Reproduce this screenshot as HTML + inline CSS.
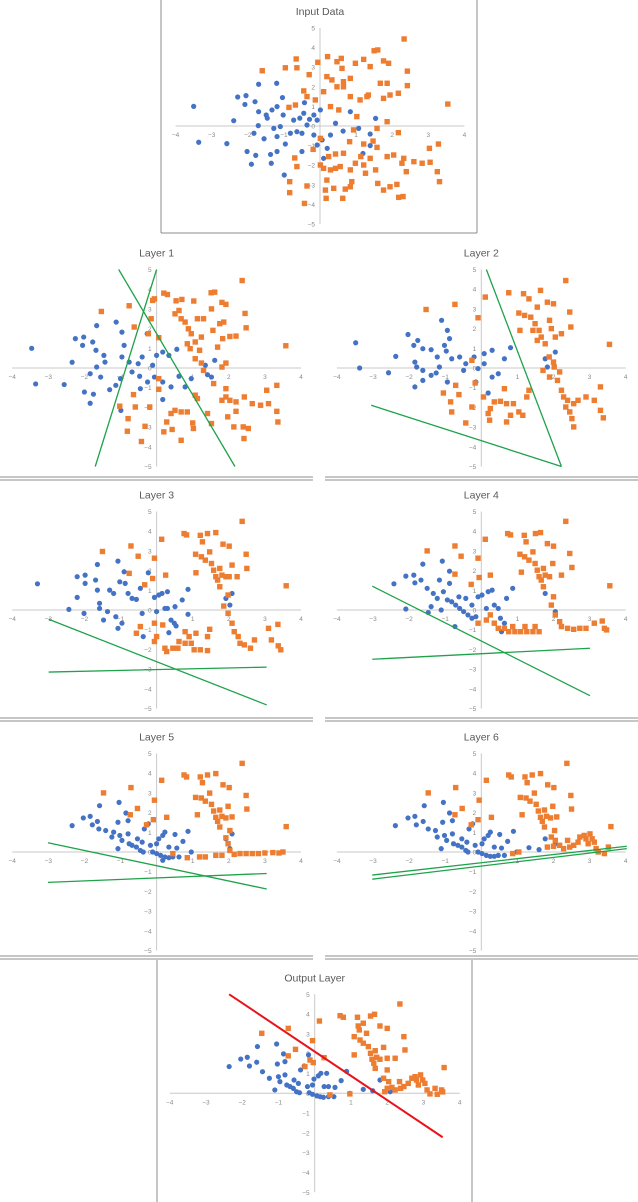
<!DOCTYPE html>
<html><head><meta charset="utf-8"><title>Layers</title>
<style>html,body{margin:0;padding:0;background:#fff}svg{display:block}text{font-family:"Liberation Sans",sans-serif}</style>
</head><body>
<svg id="chart" width="638" height="1202" viewBox="0 0 638 1202" xmlns="http://www.w3.org/2000/svg">
<g stroke="#8c8c8c" stroke-width="1" fill="none">
<line x1="161" y1="0" x2="161" y2="233"/><line x1="477" y1="0" x2="477" y2="233"/><line x1="161" y1="233" x2="477" y2="233"/>
<line x1="0" y1="477" x2="313" y2="477"/><line x1="0" y1="480" x2="313" y2="480"/><line x1="325" y1="477" x2="638" y2="477"/><line x1="325" y1="480" x2="638" y2="480"/>
<line x1="0" y1="718" x2="313" y2="718"/><line x1="0" y1="721" x2="313" y2="721"/><line x1="325" y1="718" x2="638" y2="718"/><line x1="325" y1="721" x2="638" y2="721"/>
<line x1="0" y1="956" x2="313" y2="956"/><line x1="0" y1="959" x2="313" y2="959"/><line x1="325" y1="956" x2="638" y2="956"/><line x1="325" y1="959" x2="638" y2="959"/>
<line x1="157" y1="960" x2="157" y2="1202"/><line x1="472" y1="960" x2="472" y2="1202"/>
</g>
</svg>
<script>
// ---------- data (x, y in axis units) ----------
const inputBlue=[[-3.5,1.0],[-3.36,-0.83],[-2.58,-0.9],[-2.39,0.27],[-2.28,1.48],[-2.05,1.55],[-2.08,1.1],[-1.8,1.24],[-1.7,2.13],[-1.7,0.73],[-1.49,0.56],[-1.46,0.4],[-1.71,0.02],[-1.83,-0.37],[-1.55,-0.65],[-2.02,-1.3],[-1.78,-1.5],[-1.9,-1.95],[-1.37,-1.45],[-1.19,-1.3],[-1.35,-1.9],[-1.2,2.18],[-1.19,0.99],[-1.33,0.82],[-1.04,1.45],[-1.02,0.56],[-1.1,-0.03],[-0.96,-0.92],[-1.19,-0.54],[-0.82,-0.37],[-0.64,-0.29],[-0.56,0.4],[-0.45,0.65],[-0.43,1.19],[-0.36,0.05],[-0.29,0.34],[-0.17,0.56],[-0.08,0.3],[0.01,0.82],[0.06,-0.71],[0.1,-1.65],[0.29,-0.46],[0.43,0.14],[0.64,-0.26],[0.84,0.73],[1.07,-0.12],[1.19,-1.4],[1.39,-0.41],[1.39,-1.0],[1.54,0.39],[-0.5,-1.3],[-0.17,-0.46],[-0.08,-0.97],[0.2,-1.14],[-0.99,-2.5],[-0.5,-0.37],[-0.73,0.3],[-1.28,-0.12]];
const inputOrange=[[-1.6,2.82],[-0.96,2.97],[-0.66,3.42],[-0.64,2.97],[-0.3,2.62],[-0.06,3.25],[0.21,3.54],[0.47,3.28],[0.59,3.45],[0.61,2.94],[0.19,2.52],[0.33,2.35],[0.47,2.0],[0.65,2.26],[0.84,2.43],[0.98,3.2],[1.21,3.4],[1.39,3.03],[1.5,3.84],[1.6,3.88],[1.76,3.32],[1.9,3.2],[2.33,4.44],[2.42,2.8],[2.42,2.06],[3.54,1.12],[1.67,2.18],[1.86,2.18],[1.34,1.58],[1.11,1.33],[0.84,1.5],[0.65,2.0],[0.1,1.75],[-0.13,1.33],[-0.36,1.5],[-0.45,1.79],[-0.68,1.07],[-0.86,0.95],[0.29,0.99],[0.52,0.82],[1.02,0.48],[1.3,1.5],[1.94,1.58],[2.17,1.67],[1.76,1.41],[1.86,0.22],[1.58,-0.12],[2.17,-0.34],[0.93,-0.2],[0.82,-0.8],[1.21,-0.92],[1.47,-0.77],[1.58,-1.09],[1.13,-1.56],[1.39,-1.65],[1.21,-1.99],[1.54,-2.24],[1.26,-2.41],[1.86,-1.56],[2.04,-1.48],[2.32,-1.65],[2.27,-1.9],[2.6,-1.82],[2.83,-1.9],[3.05,-1.85],[3.03,-1.14],[3.28,-0.92],[3.25,-2.33],[3.31,-2.84],[2.39,-2.33],[2.13,-2.98],[2.3,-3.6],[2.18,-3.64],[1.94,-3.1],[1.76,-3.27],[1.6,-2.93],[0.84,-3.1],[0.88,-2.84],[0.63,-3.69],[0.7,-3.22],[0.38,-3.18],[0.19,-2.76],[0.15,-3.27],[0.17,-3.69],[-0.43,-3.95],[-0.36,-3.06],[-0.84,-2.84],[-0.84,-3.4],[-0.64,-2.07],[-0.7,-1.63],[0.01,-1.99],[0.1,-2.16],[0.29,-2.24],[0.43,-2.16],[0.56,-2.07],[0.65,-1.39],[0.43,-1.43],[0.24,-1.56],[0.01,-0.63],[-0.19,-1.19],[0.84,-2.24],[0.98,-1.9]];

const layer1Blue=[[-3.46,1.0],[-3.35,-0.81],[-2.56,-0.84],[-2.34,0.29],[-2.25,1.49],[-2.02,1.57],[-2.05,1.15],[-1.66,2.15],[-1.77,1.32],[-1.68,0.9],[-1.46,0.64],[-1.43,0.3],[-1.66,0.05],[-1.84,-0.29],[-1.55,-0.46],[-2.0,-1.22],[-1.75,-1.33],[-1.84,-1.79],[-1.3,-1.1],[-1.13,-0.88],[-1.0,-0.54],[-1.12,2.33],[-0.96,1.82],[-0.9,1.15],[-0.96,0.56],[-0.76,0.3],[-0.68,-0.2],[-0.47,-0.42],[-0.51,0.22],[-0.4,0.56],[-0.26,1.74],[-0.11,0.14],[0,0.64],[0.17,0.81],[0.34,0.64],[0.56,0.95],[-0.06,-0.46],[0.17,-0.71],[0.4,-0.96],[0.62,-0.42],[0.79,-0.96],[0.96,-0.54],[1.35,0.14],[1.41,-0.34],[1.61,0.39],[1.52,-0.46],[0.17,-1.6],[-0.99,-2.15],[-0.45,-1.05],[-0.25,-0.71]];
const layer1Orange=[[-1.53,2.87],[-0.76,3.16],[-0.06,3.51],[0.2,3.8],[0.3,3.73],[0.54,3.41],[0.7,3.48],[1.03,3.4],[1.51,3.82],[1.61,3.85],[1.81,3.33],[1.92,3.23],[2.37,4.44],[2.45,2.77],[2.48,2.04],[3.58,1.13],[0.51,2.75],[0.62,2.92],[0.68,2.5],[0.79,2.33],[0.88,1.99],[0.96,1.74],[1.13,2.5],[1.3,2.5],[1.52,3.0],[1.75,2.25],[1.86,2.33],[1.56,1.91],[1.24,1.57],[1.07,1.32],[1.19,0.9],[1.69,1.06],[1.83,1.49],[2.03,1.6],[2.2,1.62],[0.85,1.23],[0.93,0.98],[-0.11,3.43],[-0.15,2.5],[-0.62,2.08],[-0.23,1.74],[0.06,1.54],[1.07,0.47],[1.24,0.25],[1.92,0.25],[1.81,0.05],[1.3,-0.12],[1.58,-0.79],[1.92,-1.47],[1.81,-1.64],[2.03,-1.64],[2.2,-1.72],[2.43,-1.47],[2.65,-1.81],[2.88,-1.89],[3.1,-1.81],[3.05,-1.13],[3.33,-0.88],[3.33,-2.2],[3.36,-2.74],[2.2,-2.2],[1.97,-2.48],[2.14,-2.99],[2.4,-2.99],[2.42,-3.58],[2.54,-3.07],[1.52,-2.82],[1.41,-2.31],[1.0,-2.79],[1.02,-3.07],[0.68,-3.67],[0.51,-2.15],[0.68,-2.23],[0.85,-2.23],[0.4,-2.31],[0.28,-2.74],[0.2,-3.24],[0.43,-3.12],[-0.32,-2.96],[-0.42,-3.73],[-0.79,-2.57],[-0.81,-3.21],[-1.02,-1.94],[-0.59,-1.98],[-0.64,-1.35],[-0.19,-1.98],[0.06,-1.08],[0.06,-0.54],[1.07,-1.38],[1.13,-1.55],[1.92,-1.05]];
const layer1Lines=[[-1.05,5.0,2.17,-5.0],[0,5.0,-1.7,-5.0]];

const layer2Blue=[[-3.48,1.28],[-3.37,0],[-2.57,-0.24],[-2.37,0.59],[-2.03,1.7],[-1.76,1.4],[-1.87,1.15],[-1.1,2.42],[-1.62,0.98],[-1.39,0.93],[-1.22,0.56],[-0.94,1.91],[-0.88,1.49],[-1.02,1.15],[-0.97,0.86],[-0.82,0.47],[-1.84,0.3],[-1.79,0.05],[-1.62,-0.12],[-1.39,-0.37],[-1.25,-0.25],[-1.84,-0.96],[-1.62,-0.63],[-1.16,0.05],[-0.94,-0.71],[-0.49,-0.12],[-0.43,0.22],[-0.6,0.56],[-0.2,0.56],[0.08,0.73],[0.3,0.9],[0.64,0.47],[0.81,1.03],[0.47,-0.29],[0.19,-1.27],[-0.09,-0.03],[-0.15,-0.71],[0.3,-0.46],[0.08,0.22],[1.77,0.47],[1.83,0.05],[2.05,0.81]];
const layer2Orange=[[-1.53,2.97],[-0.73,3.23],[-0.09,2.55],[0.11,3.6],[0.76,3.82],[1.17,3.77],[1.64,3.94],[1.32,3.51],[1.83,3.34],[2.0,3.26],[2.34,4.44],[2.45,2.84],[2.48,2.08],[3.55,1.2],[1.04,2.79],[1.2,2.67],[1.37,2.58],[1.55,3.09],[1.49,2.25],[1.6,1.91],[1.43,1.91],[1.66,1.57],[1.77,1.23],[1.55,1.4],[1.89,2.42],[1.94,2.0],[2.22,1.74],[2.05,1.57],[1.07,1.91],[1.88,0.56],[2.0,0.3],[2.02,0.05],[2.17,-0.2],[2.11,-0.63],[2.22,-1.13],[2.28,-1.47],[2.39,-1.64],[2.34,-1.98],[2.56,-1.81],[2.45,-2.23],[2.51,-2.57],[2.56,-2.99],[2.68,-1.64],[2.9,-1.47],[3.13,-1.64],[3.3,-0.96],[3.3,-2.15],[3.38,-2.53],[-0.26,0.39],[-0.17,-0.76],[-0.71,-0.88],[-1.05,-1.27],[-0.62,-1.35],[-0.85,-1.72],[-0.82,-2.23],[-0.43,-2.79],[-0.26,-1.98],[0.06,-1.47],[0.19,-2.31],[0.23,-2.65],[0.36,-1.72],[0.53,-1.69],[0.7,-1.81],[0.89,-1.81],[0.64,-1.05],[0.25,-2.06],[0.7,-2.74],[0.81,-2.4],[1.04,-2.23],[1.15,-2.4],[1.26,-1.47],[1.32,-1.13],[1.71,-0.12],[1.89,-0.46]];
const layer2Lines=[[0.14,5.0,2.22,-5.0],[-3.05,-1.89,2.22,-5.0]];

const layer3Blue=[[-3.3,1.33],[-2.43,0.03],[-2.2,0.64],[-2.2,1.69],[-1.98,1.77],[-1.98,1.35],[-2.01,-0.17],[-1.64,2.31],[-1.69,1.52],[-1.64,1.01],[-1.58,0.34],[-1.58,0.08],[-1.47,-0.51],[-1.36,-0.08],[-1.3,1.01],[-1.19,0.84],[-1.07,2.48],[-1.02,1.43],[-1.13,-0.34],[-1.07,-0.93],[-0.96,-0.67],[-0.9,1.94],[-0.87,1.35],[-0.79,0.84],[-0.68,0.59],[-0.56,0.54],[-0.4,-0.17],[-0.45,1.1],[-0.23,1.89],[-0.37,-1.35],[-0.06,0.64],[0.06,0.76],[0.15,0.84],[0,-0.08],[0.23,0.08],[0.3,0.93],[0.4,-0.51],[0.49,-0.67],[0.54,-0.81],[0.51,0.17],[0.71,0.51],[0.87,1.05],[0.87,-0.22],[0.34,-1.15],[0.3,0.08],[2.09,0.84],[2.03,0.25],[1.92,0.59]];
const layer3Orange=[[-1.5,2.97],[-0.71,3.25],[-0.51,2.73],[-0.33,1.28],[-0.76,1.86],[-0.06,2.63],[0.14,3.59],[0.25,1.77],[-0.11,1.6],[0.76,3.88],[0.83,3.81],[1.21,3.79],[1.27,3.46],[1.41,3.88],[1.64,3.93],[1.84,3.34],[2.01,3.24],[2.37,4.5],[2.48,2.83],[2.5,2.11],[3.59,1.23],[1.08,2.83],[1.09,1.89],[1.24,2.7],[1.35,2.53],[1.47,2.95],[1.52,2.36],[1.58,2.02],[1.64,1.69],[1.69,1.52],[1.75,2.11],[1.81,1.77],[1.75,1.18],[1.92,1.69],[2.01,1.69],[2.09,2.28],[2.23,1.69],[1.98,0.76],[1.86,0.2],[1.98,-0.17],[2.09,-0.67],[2.15,-1.1],[2.26,-1.35],[2.31,-1.69],[2.43,-1.77],[2.6,-1.94],[2.71,-1.52],[3.1,-0.93],[3.36,-0.73],[3.18,-1.52],[3.37,-1.82],[3.44,-2.02],[1.47,-0.98],[1.41,-1.35],[1.09,-1.18],[0.79,-1.1],[0.9,-1.35],[0.79,-1.69],[0.62,-1.6],[0.45,-1.94],[0.23,-1.94],[0.28,-2.11],[0.59,-1.94],[0.96,-1.69],[1.04,-2.02],[1.21,-2.02],[1.41,-2.06],[-0.06,-1.6],[0,-1.35],[0.17,-0.76],[-0.06,-0.67],[-0.56,-1.18],[-0.45,-0.84]];
const layer3Lines=[[-2.99,-0.47,3.05,-4.82],[-2.99,-3.15,3.05,-2.9]];

const layer4Blue=[[-2.42,1.33],[-2.09,0.05],[-2.09,1.72],[-1.87,1.77],[-1.84,1.38],[-1.62,2.33],[-1.67,1.52],[-1.5,1.1],[-1.47,-0.13],[-1.33,0.84],[-1.22,0.59],[-1.08,2.48],[-0.88,1.97],[-1.16,1.52],[-1.05,0.93],[-0.94,0.51],[-0.82,0.42],[-0.71,0.25],[-0.6,0.08],[-0.49,-0.08],[-0.37,-0.25],[-0.26,-0.42],[-0.15,-0.34],[-0.88,1.35],[-0.62,0.67],[-0.43,0.59],[-0.26,0.25],[-0.09,0.67],[0.02,0.76],[0.19,0.93],[0.3,1.01],[0.14,0.08],[0.36,0.25],[0.47,0.08],[0.7,0.59],[0.87,1.1],[0.53,-0.42],[0.64,-0.67],[0.56,-1.1],[-0.73,-0.84],[-1.39,0.17],[-1.11,0],[1.77,0.84],[2.05,-0.08]];
const layer4Orange=[[-1.5,3.0],[-0.73,3.25],[-0.56,2.73],[-0.28,1.3],[-0.73,1.82],[-0.09,2.63],[0.11,3.59],[0.25,1.77],[-0.06,1.65],[0.73,3.88],[0.81,3.81],[1.19,3.79],[1.24,3.46],[1.5,3.88],[1.64,3.93],[1.83,3.37],[2.0,3.24],[2.34,4.5],[2.45,2.87],[2.51,2.16],[3.56,1.23],[1.07,2.83],[1.11,1.92],[1.2,2.7],[1.32,2.53],[1.43,2.95],[1.49,2.36],[1.55,2.02],[1.6,1.69],[1.66,1.52],[1.72,2.11],[1.77,1.77],[1.72,1.18],[1.89,1.69],[1.98,2.36],[2.22,1.77],[2.0,0.67],[1.94,0.25],[2.05,-0.25],[2.17,-0.59],[2.22,-0.84],[2.39,-0.93],[2.56,-0.98],[2.73,-0.93],[2.9,-0.93],[3.13,-0.67],[3.35,-0.56],[3.41,-0.93],[3.47,-1.01],[0.14,-0.51],[0.36,-0.67],[0.47,-0.93],[0.64,-0.93],[0.76,-1.1],[0.93,-1.1],[1.09,-1.1],[1.26,-1.1],[1.43,-1.1],[1.6,-1.1],[1.49,-0.84],[1.21,-0.84],[0.87,-0.84],[0.25,-0.25],[-0.09,-0.67]];
const layer4Lines=[[-3.02,1.21,3.01,-4.35],[-3.02,-2.5,3.01,-1.94]];

const layer5Blue=[[-2.34,1.34],[-2.03,1.73],[-1.84,1.81],[-1.78,1.38],[-1.58,2.35],[-1.64,1.55],[-1.6,1.17],[-1.41,1.09],[-1.24,0.76],[-1.19,1.01],[-1.07,0.17],[-1.04,2.52],[-1.07,1.51],[-1.02,0.84],[-0.96,0.59],[-0.85,1.98],[-0.79,1.59],[-0.79,0.92],[-0.76,0.42],[-0.68,0.34],[-0.56,0.25],[-0.45,0.08],[-0.37,0],[-0.53,0.67],[-0.4,0.5],[-0.34,1.17],[-0.23,1.43],[-0.17,0.34],[-0.11,0],[0,-0.08],[0.11,-0.17],[0.23,-0.25],[0.34,-0.29],[0.45,-0.25],[0.62,-0.25],[0,0.42],[0.06,0.67],[0.17,0.84],[0.23,1.01],[0.34,0.25],[0.51,0.89],[0.56,0.2],[0.73,0.54],[0.87,1.05],[0.96,0],[0.17,-0.42],[1.92,0.67],[2.03,0.17],[2.09,0.92]];
const upperOrangeL5=[[-1.47,3.0],[-0.71,3.27],[-0.53,2.21],[-0.28,1.38],[-0.73,1.89],[-0.06,2.63],[0.14,3.64],[0.28,1.76],[-0.09,1.64],[0.76,3.91],[0.83,3.81],[1.21,3.81],[1.27,3.52],[1.41,3.91],[1.64,3.98],[1.84,3.41],[2.01,3.27],[2.37,4.5],[2.48,2.87],[2.5,2.18],[3.59,1.29],[1.08,2.77],[1.13,1.89],[1.24,2.74],[1.35,2.58],[1.47,2.99],[1.52,2.42],[1.58,2.08],[1.64,1.76],[1.69,1.56],[1.75,2.13],[1.81,1.81],[1.75,1.27],[1.92,1.73],[1.98,2.32],[2.09,1.78],[2.03,1.09]];
const lowerOrangeL5=[[1.92,0.72],[1.98,0.42],[2.03,0.08],[2.15,-0.12],[2.31,-0.08],[2.48,-0.08],[2.65,-0.08],[2.82,-0.08],[3.0,-0.05],[3.22,-0.03],[3.39,-0.05],[3.5,0],[1.64,-0.17],[1.81,-0.17],[1.19,-0.25],[0.85,-0.29],[1.35,-0.25],[0.45,-0.08]];
const layer5Lines=[[-3.01,0.47,3.05,-1.88],[-3.01,-1.54,3.05,-1.09]];

const layer6Blue=[[-2.38,1.34],[-2.03,1.73],[-1.84,1.81],[-1.8,1.38],[-1.58,2.35],[-1.61,1.55],[-1.47,1.17],[-1.27,1.09],[-1.22,0.76],[-1.11,0.17],[-1.05,2.52],[-1.07,1.51],[-1.02,0.84],[-0.96,0.59],[-0.88,1.98],[-0.8,1.59],[-0.8,0.92],[-0.77,0.42],[-0.65,0.34],[-0.54,0.25],[-0.43,0.08],[-0.37,0],[-0.54,0.67],[-0.4,0.5],[-0.34,1.17],[-0.24,1.43],[-0.17,0.34],[-0.09,0],[0.02,-0.08],[0.14,-0.17],[0.25,-0.22],[0.36,-0.22],[0.47,-0.17],[0.64,-0.17],[0.02,0.42],[0.08,0.67],[0.19,0.84],[0.25,1.01],[0.36,0.25],[0.51,0.89],[0.56,0.2],[0.73,0.54],[0.89,1.05],[0.98,0],[1.32,0.22],[1.6,0.12],[1.77,0.67],[2.05,0.42]];
const lowerOrangeL6=[[1.94,0.76],[2.05,0.59],[2.0,0.29],[2.17,0.34],[2.28,0.17],[2.39,0.59],[2.45,0.25],[2.56,0.34],[2.68,0.5],[2.73,0.76],[2.85,0.84],[2.9,0.67],[3.01,0.92],[3.07,0.67],[2.96,0.42],[3.13,0.5],[3.18,0.17],[3.24,0],[3.41,-0.08],[3.52,0.25],[1.83,0.25],[0.87,-0.08],[1.04,0]];
const layer6Lines=[[-3.02,-1.17,4.03,0.29],[-3.02,-1.38,4.03,0.17]];

const outputBlue=[[-2.36,1.35],[-2.04,1.73],[-1.86,1.82],[-1.8,1.38],[-1.58,2.36],[-1.6,1.57],[-1.44,1.09],[-1.25,0.76],[-1.1,0.17],[-1.05,2.49],[-1.03,1.48],[-1.0,0.84],[-0.96,0.59],[-0.86,1.99],[-0.82,1.6],[-0.82,0.93],[-0.77,0.42],[-0.68,0.34],[-0.59,0.25],[-0.5,0.08],[-0.42,0.03],[-0.57,0.67],[-0.45,0.5],[-0.39,1.18],[-0.29,1.38],[-0.2,0.34],[-0.15,0.03],[-0.06,-0.05],[0.06,-0.13],[0.15,-0.17],[0.24,-0.2],[0.38,-0.17],[0.53,-0.17],[-0.06,0.42],[-0.02,0.72],[0.1,0.88],[0.17,1.01],[0.26,0.34],[0.33,1.01],[0.38,0.34],[0.56,0.3],[0.73,0.64],[0.88,1.11],[0.97,0],[1.34,0.2],[1.6,0.13],[1.8,0.67],[2.08,0.08],[-0.17,1.94]];
const outputOrange=[[-1.46,3.03],[-0.73,3.28],[-0.53,2.22],[-0.27,1.35],[-0.73,1.89],[-0.06,2.66],[0.13,3.65],[0.26,1.8],[-0.13,1.68],[-0.04,1.55],[0.7,3.92],[0.79,3.84],[1.09,2.86],[1.09,1.94],[1.18,3.84],[1.2,3.4],[1.23,3.2],[1.34,3.54],[1.54,3.9],[1.65,3.99],[1.8,3.4],[2.0,3.28],[2.35,4.51],[2.46,2.86],[2.49,2.19],[3.57,1.3],[1.25,2.69],[1.34,2.53],[1.43,3.03],[1.48,2.36],[1.54,2.02],[1.58,1.72],[1.63,1.52],[1.67,2.15],[1.71,1.82],[1.67,1.26],[1.8,1.72],[1.9,2.32],[2.0,1.77],[2.0,1.18],[2.22,1.77],[1.9,0.76],[2.04,0.59],[2.0,0.25],[2.13,0.3],[2.22,0.17],[2.34,0.59],[2.37,0.25],[2.46,0.34],[2.58,0.5],[2.68,0.76],[2.77,0.84],[2.81,0.67],[2.92,0.93],[2.98,0.67],[2.86,0.42],[3.04,0.5],[3.1,0.17],[3.18,-0.03],[3.32,0.25],[3.38,-0.05],[3.5,0.17],[3.53,0.07],[1.93,0.08],[0.97,-0.03],[0.42,-0.08]];
const outputLines=[[-2.36,5.0,3.53,-2.22]];

const xTicks=[-4,-3,-2,-1,1,2,3,4];
const yTicks=[5,4,3,2,1,0,-1,-2,-3,-4,-5];

// ---------- drawing ----------
const NS='http://www.w3.org/2000/svg';
const svg=document.getElementById('chart');
function mk(tag,attrs,parent){const e=document.createElementNS(NS,tag);for(const k in attrs)e.setAttribute(k,attrs[k]);parent.appendChild(e);return e;}

function drawPanel(key,title,x0,y0,xs,ys,blue,orange,lines,lineColor,lineW){
  const sx=v=>x0+v*xs, sy=v=>y0-v*ys;
  const g=mk('g',{},svg);
  
  
  const t=mk('text',{x:x0,y:sy(5)-13,'text-anchor':'middle','font-size':'10.5',fill:'#595959'},g);
  
  
  t.textContent=title;
  const xa=mk('line',{x1:sx(-4),x2:sx(4),y1:y0,y2:y0,stroke:'#c8c8c8','stroke-width':1},g);
  
  
  const ya=mk('line',{x1:x0,x2:x0,y1:sy(5),y2:sy(-5),stroke:'#c8c8c8','stroke-width':1},g);
  
  
  xTicks.forEach(v=>{
    const l=mk('text',{x:sx(v),y:y0+11,'text-anchor':'middle','font-size':'6.5',fill:'#8a8a8a'},g);
    
    
    l.textContent=String(v).replace('-','\u2212');
  });
  yTicks.forEach(v=>{
    const l=mk('text',{x:x0-5,y:sy(v)+2.5,'text-anchor':'end','font-size':'6.5',fill:'#8a8a8a'},g);
    
    
    l.textContent=String(v).replace('-','\u2212');
  });
  blue.forEach(p=>{
    const c=mk('circle',{cx:sx(p[0]),cy:sy(p[1]),r:2.6,fill:'#4472c4'},g);
    
    
  });
  orange.forEach(p=>{
    const r=mk('rect',{x:sx(p[0])-2.7,y:sy(p[1])-2.7,width:5.4,height:5.4,fill:'#ed7d31'},g);
    
    
  });
  lines.forEach(L=>{
    const l=mk('line',{x1:sx(L[0]),y1:sy(L[1]),x2:sx(L[2]),y2:sy(L[3]),stroke:lineColor,'stroke-width':lineW},g);
    
    
  });
}
const XS=36.1, YS=19.7;
drawPanel('input','Input Data',320,126,XS,19.6,inputBlue,inputOrange,[],'#000',1);
drawPanel('layer1','Layer 1',156.6,368,XS,YS,layer1Blue,layer1Orange,layer1Lines,'#1fa24a',1.3);
drawPanel('layer2','Layer 2',481.3,368,XS,YS,layer2Blue,layer2Orange,layer2Lines,'#1fa24a',1.3);
drawPanel('layer3','Layer 3',156.6,610,XS,YS,layer3Blue,layer3Orange,layer3Lines,'#1fa24a',1.3);
drawPanel('layer4','Layer 4',481.3,610,XS,YS,layer4Blue,layer4Orange,layer4Lines,'#1fa24a',1.3);
drawPanel('layer5','Layer 5',156.6,852,XS,YS,layer5Blue,upperOrangeL5.concat(lowerOrangeL5),layer5Lines,'#1fa24a',1.3);
drawPanel('layer6','Layer 6',481.3,852,XS,YS,layer6Blue,upperOrangeL5.concat(lowerOrangeL6),layer6Lines,'#1fa24a',1.3);
drawPanel('output','Output Layer',314.7,1093.3,36.25,19.8,outputBlue,outputOrange,outputLines,'#e8131b',2);
</script>
</body></html>
